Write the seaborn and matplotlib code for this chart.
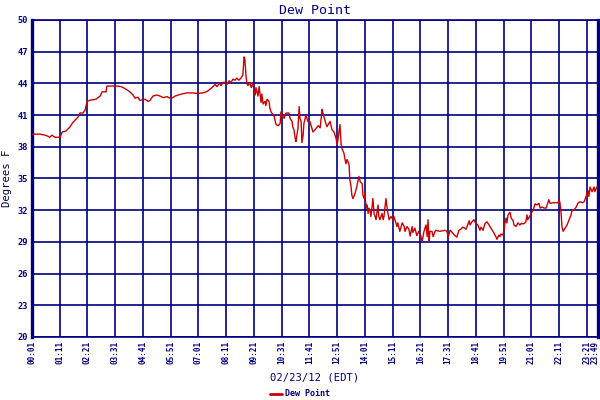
import matplotlib
matplotlib.use("Agg")
import matplotlib.pyplot as plt
import seaborn as sns
import pandas as pd

# minutes since midnight (02/23/12, EDT)
minutes = [1, 21, 34, 41, 46, 51, 59, 72, 77, 87, 97, 104, 109, 117, 122, 130, 135, 140, 147, 162,
           173, 178, 188, 190, 215, 226, 236, 248, 256, 261, 268, 273, 286, 294, 299, 306, 316, 324, 332, 342,
           349, 354, 362, 374, 379, 392, 407, 420, 432, 440, 445, 455, 463, 468, 473, 478, 483, 488, 493, 498,
           503, 508, 513, 518, 523, 528, 533, 536, 538, 541, 543, 546, 551, 554, 559, 561, 564, 566, 571, 574,
           579, 581, 584, 589, 591, 594, 599, 601, 604, 612, 614, 617, 622, 627, 629, 632, 637, 642, 649, 652,
           657, 659, 662, 665, 667, 672, 675, 677, 680, 682, 685, 687, 692, 697, 702, 710, 715, 723, 728, 733,
           735, 740, 745, 753, 758, 763, 768, 771, 773, 778, 781, 783, 788, 791, 793, 796, 801, 803, 806, 808,
           811, 816, 821, 824, 826, 829, 834, 836, 839, 841, 844, 846, 849, 851, 854, 856, 859, 861, 864, 869,
           871, 874, 876, 879, 884, 887, 889, 894, 897, 899, 902, 907, 912, 914, 919, 922, 924, 929, 935, 940,
           942, 947, 952, 955, 960, 962, 967, 972, 977, 982, 985, 990, 995, 998, 1000, 1003, 1005, 1010, 1013, 1018,
           1020, 1030, 1043, 1048, 1051, 1056, 1063, 1068, 1073, 1078, 1083, 1088, 1096, 1104, 1106, 1111, 1116, 1121, 1126, 1131,
           1134, 1139, 1144, 1149, 1154, 1159, 1164, 1167, 1169, 1172, 1174, 1179, 1182, 1184, 1189, 1192, 1194, 1197, 1199, 1202,
           1207, 1210, 1215, 1217, 1222, 1227, 1232, 1235, 1240, 1245, 1247, 1250, 1252, 1257, 1262, 1265, 1268, 1270, 1275, 1280,
           1283, 1288, 1293, 1298, 1300, 1305, 1308, 1315, 1328, 1331, 1333, 1336, 1338, 1341, 1346, 1351, 1356, 1361, 1363, 1368,
           1374, 1379, 1384, 1389, 1394, 1396, 1399, 1401, 1404, 1406, 1409, 1414, 1419, 1421, 1426, 1429]

dew_point = [39.2, 39.2, 39.1, 39.0, 38.9, 39.1, 38.9, 38.9, 39.4, 39.5, 39.9, 40.3, 40.5, 40.8, 41.2, 41.2, 41.5, 42.3, 42.4, 42.5,
             42.8, 43.2, 43.2, 43.75, 43.75, 43.7, 43.5, 43.2, 42.9, 42.6, 42.7, 42.4, 42.5, 42.3, 42.4, 42.8, 42.9, 42.8, 42.65, 42.75,
             42.6, 42.6, 42.8, 42.95, 43.0, 43.1, 43.1, 43.05, 43.1, 43.2, 43.3, 43.6, 43.9, 43.7, 44.0, 43.8, 44.1, 44.1, 43.9, 44.25,
             44.1, 44.4, 44.3, 44.5, 44.3, 44.5, 44.8, 46.5, 46.3, 44.7, 44.0, 43.8, 44.1, 43.6, 44.0, 43.2, 42.9, 43.6, 42.8, 43.7,
             42.2, 43.0, 42.05, 42.3, 41.9, 42.5, 42.3, 41.7, 41.3, 40.9, 40.5, 40.1, 40.0, 40.2, 41.3, 41.0, 40.7, 41.2, 41.2, 40.7,
             40.4, 39.9, 39.6, 38.8, 38.5, 39.75, 41.8, 40.7, 40.4, 38.4, 39.1, 40.2, 41.0, 40.4, 40.4, 39.4, 39.6, 40.0, 39.8, 41.55,
             41.2, 40.5, 39.9, 40.4, 39.6, 39.4, 38.8, 38.2, 38.7, 40.1, 38.2, 37.85, 37.4, 36.75, 36.4, 36.8, 36.3, 34.9, 34.2, 33.4,
             33.1, 33.6, 34.3, 34.9, 35.2, 34.7, 34.5, 33.4, 33.1, 33.6, 32.2, 32.5, 31.7, 32.2, 32.0, 31.4, 32.3, 33.1, 31.7, 31.1,
             31.7, 32.5, 31.4, 31.1, 31.7, 31.1, 31.4, 33.1, 32.2, 31.7, 31.1, 31.4, 31.1, 31.4, 30.8, 30.45, 30.8, 30.0, 30.8, 30.45,
             30.0, 30.45, 30.2, 29.55, 30.45, 29.9, 30.3, 29.6, 30.0, 29.55, 29.0, 30.0, 30.6, 29.5, 31.1, 29.1, 30.0, 30.0, 29.5, 30.0,
             30.1, 30.0, 30.1, 30.0, 29.45, 30.1, 29.8, 29.6, 29.45, 30.1, 30.2, 30.4, 30.2, 31.0, 30.6, 30.9, 31.1, 30.75, 30.6, 30.1,
             30.4, 30.1, 30.75, 30.9, 30.6, 30.3, 30.0, 29.8, 29.65, 29.45, 29.25, 29.65, 29.5, 29.75, 29.65, 30.1, 30.75, 31.25, 30.8, 31.55,
             31.8, 31.25, 31.0, 30.6, 30.45, 30.8, 30.6, 30.75, 30.7, 30.8, 30.9, 31.55, 31.1, 31.45, 31.8, 32.05, 32.3, 32.6, 32.5, 32.65,
             32.2, 32.3, 32.2, 32.2, 32.4, 33.0, 32.65, 32.7, 32.7, 33.0, 32.7, 31.7, 30.45, 30.0, 30.3, 30.6, 31.1, 31.55, 31.95, 32.0,
             32.3, 32.7, 32.8, 32.7, 32.8, 33.0, 33.3, 33.6, 33.85, 33.3, 34.2, 33.75, 34.2, 33.75, 34.2, 34.2]

x_ticks = [1, 71, 141, 211, 281, 351, 421, 491, 561, 631, 701, 771, 841, 911, 981, 1051,
           1121, 1191, 1261, 1331, 1401, 1429]
x_tick_labels = ["00:01", "01:11", "02:21", "03:31", "04:41", "05:51", "07:01", "08:11", "09:21",
                 "10:31", "11:41", "12:51", "14:01", "15:11", "16:21", "17:31", "18:41", "19:51",
                 "21:01", "22:11", "23:21", "23:49"]
y_ticks = [20, 23, 26, 29, 32, 35, 38, 41, 44, 47, 50]

title = "Dew Point"
x_label = "02/23/12 (EDT)"
y_label = "Degrees F"
series_name = "Dew Point"

NAVY = "#000080"
RED = "#cc0000"
MONO = "DejaVu Sans Mono"
TICK_FONT = dict(fontsize=5.5, family=MONO, fontweight="bold", color=NAVY)

df = pd.DataFrame({"minute": minutes, "dew": dew_point})

sns.set_style("white")
fig = plt.figure(figsize=(6, 4), dpi=100)
ax = fig.add_axes([32 / 600, 63 / 400, 566 / 600, 317 / 400])

sns.lineplot(data=df, x="minute", y="dew", ax=ax, color=RED, linewidth=1.0,
             estimator=None, label=series_name, zorder=3)

ax.set_xlim(1, 1429)
ax.set_ylim(20, 50)
# last tick sits on the right edge: draw its label nudged inward
ax.set_xticks(x_ticks)
ax.set_xticklabels(x_tick_labels[:-1] + [""], rotation=90, **TICK_FONT)
ax.annotate(x_tick_labels[-1], xy=(x_ticks[-1], 0), xycoords=ax.get_xaxis_transform(),
            xytext=(-2.4, -3), textcoords="offset points", rotation=90,
            ha="center", va="top", **TICK_FONT)
ax.set_yticks(y_ticks)
ax.set_yticklabels([str(v) for v in y_ticks], fontsize=6.2, family=MONO,
                   fontweight="bold", color=NAVY)
ax.tick_params(axis="both", length=0, pad=3)

ax.grid(True, color=NAVY, linewidth=1.2, zorder=1)
ax.set_axisbelow(True)
for side in ["left", "right"]:
    ax.spines[side].set_color(NAVY)
    ax.spines[side].set_linewidth(2.4)
for side in ["top", "bottom"]:
    ax.spines[side].set_color(NAVY)
    ax.spines[side].set_linewidth(1.2)

ax.set_title(title, fontsize=9.5, family=MONO, color=NAVY, pad=4)
ax.set_xlabel(x_label, fontsize=7.6, family=MONO, color=NAVY, labelpad=6)
ax.set_ylabel(y_label, fontsize=7.6, family=MONO, color="#000040", labelpad=4)

ax.get_legend().remove()
handles, labels = ax.get_legend_handles_labels()
leg = fig.legend(handles, labels, loc="center", bbox_to_anchor=(0.5, 0.015),
                 frameon=False, handlelength=1.4, handletextpad=0.3,
                 prop={"family": MONO, "size": 6, "weight": "bold"})
for t in leg.get_texts():
    t.set_color(NAVY)
for l in leg.get_lines():
    l.set_linewidth(2)

fig.savefig("out.png", dpi=100)
